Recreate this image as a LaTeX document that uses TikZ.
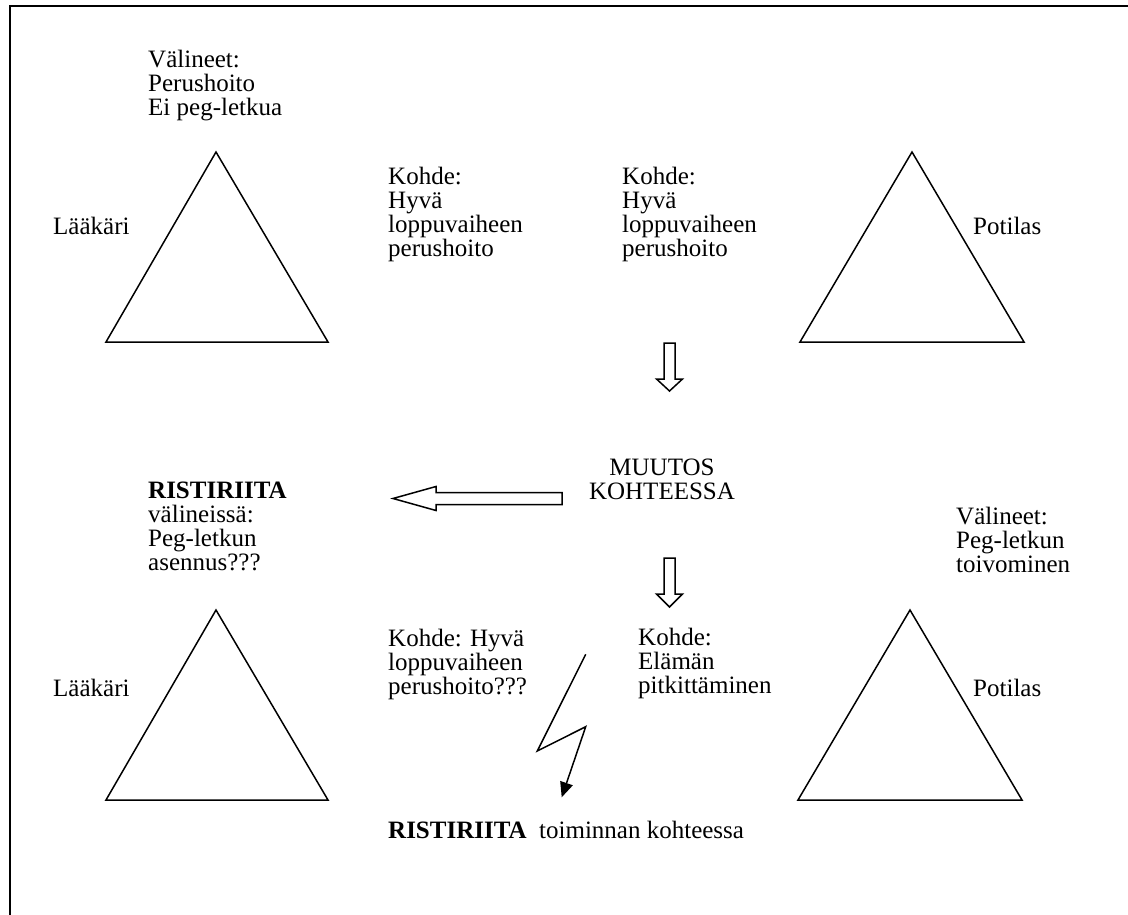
\documentclass[tikz,border=0pt]{standalone}
\usepackage{fontspec}
\setmainfont{Liberation Serif}
\usetikzlibrary{arrows.meta}
\begin{document}
\begin{tikzpicture}[x=1pt,y=-1pt,
  lbl/.style={anchor=north west,inner sep=0pt,align=left,
    font=\fontsize{25}{24}\selectfont},
  clbl/.style={anchor=north,inner sep=0pt,align=center,
    font=\fontsize{25}{24}\selectfont},
  tri/.style={draw,line width=1.5pt,line join=miter},
  fatarrow/.style={draw,line width=1.5pt,fill=white,line join=miter},
  bolt/.style={draw,line width=1.5pt,line join=miter,
    -{Triangle[length=15pt,width=13pt]}}]
\useasboundingbox (0,0) rectangle (1128,915);
% frame: left and top edges
\draw[line width=2pt] (9.5,915) -- (9.5,6.5) -- (1128,6.5);

% activity triangles
\draw[tri] (216,152) -- (106,342) -- (328,342) -- cycle;
\draw[tri] (912,152) -- (800,342) -- (1024,342) -- cycle;
\draw[tri] (216,610) -- (106,800) -- (328,800) -- cycle;
\draw[tri] (910,610) -- (798,800) -- (1022,800) -- cycle;

% upper system
\node[lbl] (valA) at (148,50) {Välineet:\\Perushoito\\Ei peg-letkua};
\node[lbl] (laakA) at (53,217) {Lääkäri};
\node[lbl] (kohA) at (388,167) {Kohde:\\Hyvä\\loppuvaiheen\\perushoito};
\node[lbl] (kohB) at (622,167) {Kohde:\\Hyvä\\loppuvaiheen\\perushoito};
\node[lbl] (potA) at (973,217) {Potilas};

% change in the object
\node[clbl] (muutos) at (662,459) {MUUTOS\\KOHTEESSA};
\node[lbl] (ristA) at (148,482) {\textbf{RISTIRIITA}\\välineissä:\\Peg-letkun\\asennus???};
\node[lbl] (valB) at (956,507) {Välineet:\\Peg-letkun\\toivominen};

% lower system
\node[lbl] (laakB) at (53,679) {Lääkäri};
\node[lbl] (kohC) at (388,629) {Kohde: Hyvä\\loppuvaiheen\\perushoito???};
\node[lbl] (kohD) at (638,628) {Kohde:\\Elämän\\pitkittäminen};
\node[lbl] (potB) at (973,679) {Potilas};
\node[lbl] (ristB) at (388,821) {\textbf{RISTIRIITA}\ \ toiminnan kohteessa};

% block arrows
\draw[fatarrow] (664,343) -- (675,343) -- (675,379) -- (682.5,379) -- (669.5,391)
  -- (656.5,379) -- (664,379) -- cycle;
\draw[fatarrow] (664,558) -- (675,558) -- (675,594) -- (682.5,594) -- (669.5,607)
  -- (656.5,594) -- (664,594) -- cycle;
\draw[fatarrow] (562,492.5) -- (436,492.5) -- (436,486.5) -- (393,498.5)
  -- (436,510.5) -- (436,504.5) -- (562,504.5) -- cycle;

% conflict bolt
\coordinate (b1) at (585.7,654.3);
\coordinate (b2) at (537.3,751);
\coordinate (b3) at (585.7,726.7);
\coordinate (b4) at (561.7,797.3);
\draw[bolt] (b1) -- (b2) -- (b3) -- (b4);
\end{tikzpicture}
\end{document}
